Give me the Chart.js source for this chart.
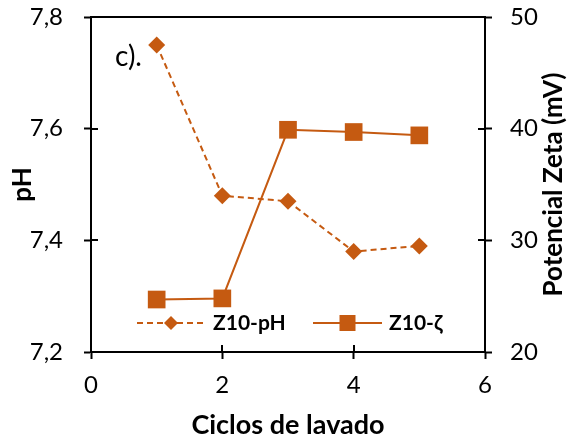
<!DOCTYPE html>
<html>
<head>
<meta charset="utf-8">
<script src="https://cdn.jsdelivr.net/npm/chart.js@4/dist/chart.umd.min.js"></script>
<style>
  html, body { margin: 0; padding: 0; background: #fff; }
  #wrap { width: 571px; height: 441px; position: relative; }
</style>
</head>
<body>
<div id="wrap"><canvas id="c"></canvas></div>
<script>
// Washing cycles and measured values
const ciclos = [1, 2, 3, 4, 5];
const phValues = [7.75, 7.48, 7.47, 7.38, 7.39];
const zetaValues = [24.7, 24.8, 39.9, 39.7, 39.4];
const seriesNames = ['Z10-pH', 'Z10-ζ'];
const panelLabel = 'c).';

const ORANGE = '#C55A11';
const FONT = 'Lato, "Open Sans", sans-serif';

// Ticks that cross the axis lines: the outer half comes from Chart.js,
// the inner half is drawn here; also the top frame line, the panel tag,
// the rotated right-hand title and the in-plot legend.
const decorations = {
  id: 'decorations',
  afterDraw(chart) {
    const ctx = chart.ctx;
    const a = chart.chartArea;
    const len = 7;
    ctx.save();
    ctx.strokeStyle = '#000';
    ctx.lineWidth = 2;
    // top frame line
    ctx.beginPath();
    ctx.moveTo(a.left - 1, a.top);
    ctx.lineTo(a.right + 1, a.top);
    ctx.stroke();
    // inner tick halves
    const sx = chart.scales.x, sy = chart.scales.y, sy2 = chart.scales.y2;
    ctx.beginPath();
    sx.ticks.forEach(t => {
      const p = Math.round(sx.getPixelForValue(t.value));
      ctx.moveTo(p, a.bottom); ctx.lineTo(p, a.bottom - len);
    });
    sy.ticks.forEach(t => {
      const p = Math.round(sy.getPixelForValue(t.value));
      ctx.moveTo(a.left, p); ctx.lineTo(a.left + len, p);
    });
    sy2.ticks.forEach(t => {
      const p = Math.round(sy2.getPixelForValue(t.value));
      ctx.moveTo(a.right, p); ctx.lineTo(a.right - len, p);
    });
    ctx.stroke();

    // panel tag
    ctx.fillStyle = '#000';
    ctx.font = '28px ' + FONT;
    ctx.textAlign = 'left';
    ctx.textBaseline = 'middle';
    ctx.fillText(panelLabel, a.left + 24, a.top + 40);

    // right axis title, reading bottom to top
    ctx.save();
    ctx.translate(554, (a.top + a.bottom) / 2);
    ctx.rotate(-Math.PI / 2);
    ctx.font = 'bold 26px ' + FONT;
    ctx.textAlign = 'center';
    ctx.textBaseline = 'middle';
    ctx.fillText('Potencial Zeta (mV)', 0, 0);
    ctx.restore();

    // legend
    const ly = a.bottom - 29;
    const items = [
      { ds: chart.data.datasets[0], x0: 137, x1: 205, tx: 213 },
      { ds: chart.data.datasets[1], x0: 313, x1: 382, tx: 389 }
    ];
    items.forEach(it => {
      const ds = it.ds;
      ctx.strokeStyle = ds.borderColor;
      ctx.lineWidth = ds.borderWidth;
      ctx.setLineDash(ds.borderDash || []);
      ctx.beginPath();
      ctx.moveTo(it.x0, ly); ctx.lineTo(it.x1, ly);
      ctx.stroke();
      ctx.setLineDash([]);
      ctx.fillStyle = ds.pointBackgroundColor;
      const cx = (it.x0 + it.x1) / 2;
      if (ds.pointStyle === 'rectRot') {
        const r = 7;
        ctx.beginPath();
        ctx.moveTo(cx, ly - r); ctx.lineTo(cx + r, ly);
        ctx.lineTo(cx, ly + r); ctx.lineTo(cx - r, ly);
        ctx.closePath(); ctx.fill();
      } else {
        const h = 8;
        ctx.fillRect(cx - h, ly - h, 2 * h, 2 * h);
      }
      ctx.fillStyle = '#000';
      ctx.font = 'bold 21px ' + FONT;
      ctx.textAlign = 'left';
      ctx.textBaseline = 'middle';
      ctx.fillText(ds.label, it.tx, ly);
    });
    ctx.restore();
  }
};

const commaFmt = v => Number(v).toFixed(1).replace('.', ',');

// fixed axis band sizes, with no extra label overhang padding
const fixV = w => s => { s.width = w; s.paddingTop = 0; s.paddingBottom = 0; };
const fixH = h => s => { s.height = h; s.paddingLeft = 0; s.paddingRight = 0; };

new Chart(document.getElementById('c'), {
  type: 'line',
  data: {
    datasets: [
      {
        label: seriesNames[0],
        data: ciclos.map((c, i) => ({ x: c, y: phValues[i] })),
        yAxisID: 'y',
        borderColor: ORANGE,
        backgroundColor: ORANGE,
        pointBackgroundColor: ORANGE,
        pointBorderColor: ORANGE,
        borderWidth: 2,
        borderDash: [6, 4],
        pointStyle: 'rectRot',
        pointRadius: 8.5,
        pointBorderWidth: 0,
        tension: 0
      },
      {
        label: seriesNames[1],
        data: ciclos.map((c, i) => ({ x: c, y: zetaValues[i] })),
        yAxisID: 'y2',
        borderColor: ORANGE,
        backgroundColor: ORANGE,
        pointBackgroundColor: ORANGE,
        pointBorderColor: ORANGE,
        borderWidth: 2,
        pointStyle: 'rect',
        pointRadius: 12.5,
        pointBorderWidth: 0,
        tension: 0
      }
    ]
  },
  options: {
    responsive: true,
    maintainAspectRatio: false,
    animation: false,
    layout: { padding: { top: 17, left: 0, right: 0, bottom: 0 } },
    plugins: { legend: { display: false }, tooltip: { enabled: false } },
    scales: {
      x: {
        type: 'linear',
        position: 'bottom',
        min: 0, max: 6,
        afterFit: fixH(89),
        ticks: { stepSize: 2, color: '#000', font: { family: FONT, size: 24 }, padding: 12 },
        grid: { drawOnChartArea: false, tickLength: 7, tickWidth: 2, tickColor: '#000' },
        border: { color: '#000', width: 2 },
        title: { display: true, text: 'Ciclos de lavado', color: '#000',
                 font: { family: FONT, size: 27, weight: 'bold' }, padding: { top: 0, bottom: 0 } }
      },
      y: {
        position: 'left',
        min: 7.2, max: 7.8,
        afterFit: fixV(91),
        ticks: { stepSize: 0.2, callback: commaFmt, color: '#000', font: { family: FONT, size: 24 }, padding: 21 },
        grid: { drawOnChartArea: false, tickLength: 7, tickWidth: 2, tickColor: '#000' },
        border: { color: '#000', width: 2 },
        title: { display: true, text: 'pH', color: '#000',
                 font: { family: FONT, size: 26, weight: 'bold' }, padding: { top: 7, bottom: 0 } }
      },
      y2: {
        position: 'right',
        min: 20, max: 50,
        afterFit: fixV(86),
        ticks: { stepSize: 10, color: '#000', font: { family: FONT, size: 24 }, padding: 18 },
        grid: { drawOnChartArea: false, tickLength: 7, tickWidth: 2, tickColor: '#000' },
        border: { color: '#000', width: 2 }
      }
    }
  },
  plugins: [decorations]
});
</script>
</body>
</html>
